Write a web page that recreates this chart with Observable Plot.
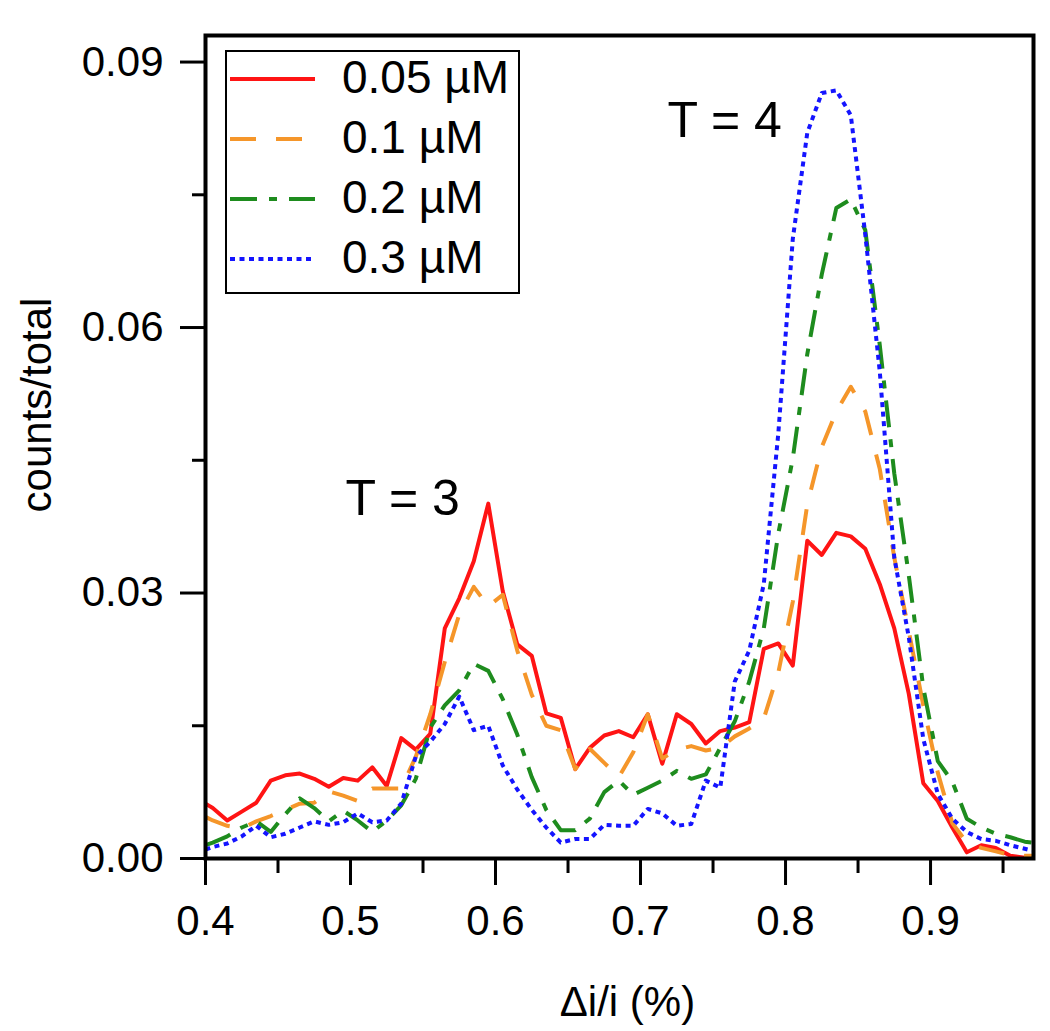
<!DOCTYPE html>
<html><head><meta charset="utf-8">
<script src="https://cdn.jsdelivr.net/npm/d3@7"></script>
<script src="https://cdn.jsdelivr.net/npm/@observablehq/plot@0.6"></script>
<style>
html,body{margin:0;padding:0;background:#fff;}
#wrap{position:relative;width:1050px;height:1031px;}
#legend{position:absolute;left:0;top:0;pointer-events:none;}
</style></head><body><div id="wrap"></div>
<script>
// bin centres, Δi/i (%)
const xs = [0.4, 0.405, 0.415, 0.425, 0.435, 0.445, 0.455, 0.465, 0.475, 0.485, 0.495, 0.505, 0.515, 0.525, 0.535, 0.545, 0.555, 0.565, 0.575, 0.585, 0.595, 0.605, 0.615, 0.625, 0.635, 0.645, 0.655, 0.665, 0.675, 0.685, 0.695, 0.705, 0.715, 0.725, 0.735, 0.745, 0.755, 0.765, 0.775, 0.785, 0.795, 0.805, 0.815, 0.825, 0.835, 0.845, 0.855, 0.865, 0.875, 0.885, 0.895, 0.905, 0.915, 0.925, 0.935, 0.945, 0.955, 0.965, 0.97];

const c005 = [0.0062, 0.0057, 0.0043, 0.0053, 0.0063, 0.0088, 0.0094, 0.0096, 0.0090, 0.0081, 0.0091, 0.0088, 0.0103, 0.0082, 0.0136, 0.0123, 0.0141, 0.0260, 0.0294, 0.0336, 0.0401, 0.0302, 0.0242, 0.0229, 0.0164, 0.0159, 0.0101, 0.0125, 0.0139, 0.0144, 0.0137, 0.0163, 0.0107, 0.0163, 0.0152, 0.0130, 0.0144, 0.0148, 0.0154, 0.0237, 0.0243, 0.0218, 0.0359, 0.0343, 0.0368, 0.0364, 0.0350, 0.0310, 0.0260, 0.0186, 0.0085, 0.0065, 0.0035, 0.0007, 0.0015, 0.0012, 0.0003, 0.0001, 0.0001];

const c01 = [0.0047, 0.0043, 0.0037, 0.0034, 0.0042, 0.0048, 0.0055, 0.0062, 0.0063, 0.0076, 0.0071, 0.0065, 0.0079, 0.0079, 0.0079, 0.0115, 0.0163, 0.0222, 0.0276, 0.0307, 0.0285, 0.0298, 0.0235, 0.0185, 0.0150, 0.0145, 0.0101, 0.0124, 0.0108, 0.0092, 0.0120, 0.0163, 0.0113, 0.0123, 0.0127, 0.0122, 0.0125, 0.0138, 0.0147, 0.0158, 0.0210, 0.0290, 0.0400, 0.0465, 0.0505, 0.0533, 0.0505, 0.0440, 0.0340, 0.0257, 0.0173, 0.0097, 0.0040, 0.0018, 0.0012, 0.0008, 0.0004, 0.0003, 0.0003];

const c02 = [0.0015, 0.0018, 0.0025, 0.0035, 0.0042, 0.0030, 0.0050, 0.0068, 0.0057, 0.0042, 0.0054, 0.0043, 0.0030, 0.0043, 0.0060, 0.0090, 0.0148, 0.0173, 0.0190, 0.0220, 0.0212, 0.0180, 0.0140, 0.0092, 0.0055, 0.0032, 0.0032, 0.0045, 0.0075, 0.0088, 0.0072, 0.0080, 0.0088, 0.0099, 0.0090, 0.0095, 0.0125, 0.0155, 0.0200, 0.0260, 0.0367, 0.0452, 0.0570, 0.0660, 0.0735, 0.0745, 0.0710, 0.0580, 0.0435, 0.0320, 0.0193, 0.0110, 0.0087, 0.0045, 0.0035, 0.0028, 0.0024, 0.0019, 0.0018];

const c03 = [0.0010, 0.0013, 0.0017, 0.0025, 0.0037, 0.0024, 0.0028, 0.0035, 0.0042, 0.0038, 0.0041, 0.0051, 0.0041, 0.0043, 0.0062, 0.0115, 0.0132, 0.0152, 0.0183, 0.0145, 0.0150, 0.0105, 0.0078, 0.0055, 0.0035, 0.0018, 0.0022, 0.0022, 0.0038, 0.0037, 0.0037, 0.0056, 0.0051, 0.0037, 0.0039, 0.0088, 0.0080, 0.0200, 0.0235, 0.0310, 0.0480, 0.0700, 0.0820, 0.0865, 0.0868, 0.0840, 0.0705, 0.0550, 0.0340, 0.0250, 0.0135, 0.0073, 0.0045, 0.0030, 0.0022, 0.0020, 0.0015, 0.0011, 0.0009];

const seriesNames = ["0.05 \u00b5M", "0.1 \u00b5M", "0.2 \u00b5M", "0.3 \u00b5M"];
const seriesValues = [c005, c01, c02, c03];
const seriesColors = ["#ff1414", "#f5962a", "#1e8c1e", "#1414ff"];
const seriesDash = [null, "26,20", "27,12,8,12", "5,4.5"];

const yMajor = [0, 0.03, 0.06, 0.09];
const yMinor = [0.015, 0.045, 0.075];
const xMajor = [0.4, 0.5, 0.6, 0.7, 0.8, 0.9];
const xMinor = [0.45, 0.55, 0.65, 0.75, 0.85, 0.95];

const annotations = [
  {x: 0.536, y: 0.0406, label: "T = 3"},
  {x: 0.758, y: 0.0833, label: "T = 4"}
];

const font = "'Liberation Sans', Arial, Helvetica, sans-serif";

const lineMarks = seriesNames.map((name, k) =>
  Plot.line(xs.map((x, i) => ({x, y: seriesValues[k][i]})), {
    x: "x", y: "y",
    stroke: seriesColors[k],
    strokeWidth: 4,
    strokeDasharray: seriesDash[k] ?? undefined,
    strokeLinecap: "butt",
    strokeLinejoin: "round"
  })
);

const plot = Plot.plot({
  width: 1050, height: 1031,
  marginLeft: 205, marginRight: 17, marginTop: 35, marginBottom: 173,
  style: {fontFamily: font, fontSize: "42px", color: "black", background: "white"},
  x: {domain: [0.4, 0.971], label: null},
  y: {domain: [0, 0.093], label: null},
  marks: [
    Plot.axisY({ticks: yMajor, tickSize: 25, tickPadding: 17, tickFormat: d3.format(".2f"), label: null, strokeWidth: 3, fontSize: 42}),
    Plot.axisY({ticks: yMinor, tickSize: 13, tickFormat: () => "", label: null, strokeWidth: 3}),
    Plot.axisX({ticks: xMajor, tickSize: 27, tickPadding: 20, tickFormat: d3.format(".1f"), label: null, strokeWidth: 3, fontSize: 42}),
    Plot.axisX({ticks: xMinor, tickSize: 15, tickFormat: () => "", label: null, strokeWidth: 3}),
    ...lineMarks,
    Plot.frame({stroke: "black", strokeWidth: 4}),
    Plot.text(annotations, {x: "x", y: "y", text: "label", fontSize: 50, fill: "black"}),
    Plot.text(["counts/total"], {text: d => d, frameAnchor: "left", textAnchor: "middle", lineAnchor: "middle", rotate: -90, dx: -168, dy: -42, fontSize: 42, fill: "black"}),
    Plot.text(["\u0394i/i (%)"], {text: d => d, frameAnchor: "bottom", textAnchor: "middle", lineAnchor: "middle", dx: 8, dy: 144, fontSize: 42, fill: "black"})
  ]
});

const wrap = document.getElementById("wrap");
wrap.appendChild(plot);

// legend box
const svg = d3.select(wrap).append("svg").attr("id", "legend").attr("width", 1050).attr("height", 1031);
const lg = svg.append("g").attr("transform", "translate(226,51)");
lg.append("rect").attr("width", 293).attr("height", 242).attr("fill", "white").attr("stroke", "black").attr("stroke-width", 2);
seriesNames.forEach((name, i) => {
  const cy = 28 + i * 60;
  const ln = lg.append("line").attr("x1", 4).attr("x2", 89).attr("y1", cy).attr("y2", cy)
    .attr("stroke", seriesColors[i]).attr("stroke-width", 4);
  if (seriesDash[i]) ln.attr("stroke-dasharray", seriesDash[i]);
  lg.append("text").attr("x", 116).attr("y", cy + 14).attr("font-family", font).attr("font-size", 46)
    .attr("fill", "black").text(name);
});
</script></body></html>
